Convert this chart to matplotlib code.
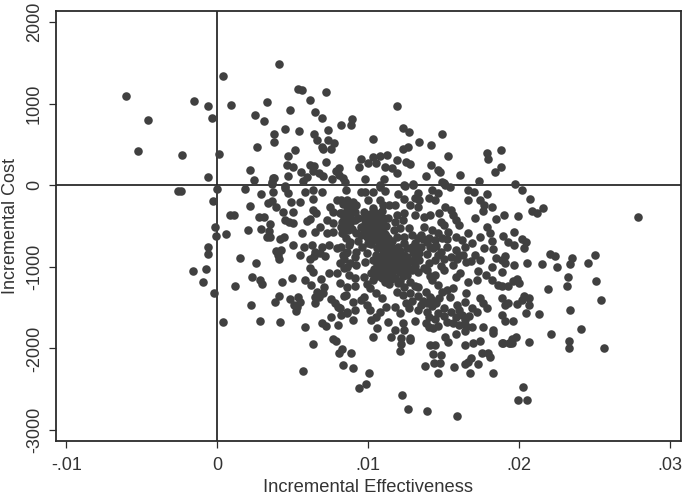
import matplotlib
matplotlib.use("Agg")
import matplotlib.pyplot as plt

plt.rcParams['font.family'] = ['Liberation Sans', 'DejaVu Sans']

# x and y ticks
x_ticks = [-0.01, 0, 0.01, 0.02, 0.03]
x_labels = ['-.01', '0', '.01', '.02', '.03']
y_ticks = [-3000, -2000, -1000, 0, 1000, 2000]
y_labels = ['-3000', '-2000', '-1000', '0', '1000', '2000']

# points, by region
eff_left = [-.00603, -.00461, -.00525, -.00232, -.00152, -.00064, -.00033, .00009, .00038, .00091, -.00064,
            .00248, .00327, .00309, .00378, .00374, .00265, .00217, .00243, .00376, .0036, .00407]
cost_left = [1098, 800, 420, 375, 1037, 975, 828, 387, 1339, 980, 105,
             865, 1020, 784, 632, 527, 473, 184, 65, 86, 44, 1486]

eff_upper = [.00535, .00559, .00718, .00614, .00482, .00649, .00692, .00891, .00886, .00818, .00451, .00736,
             .00541, .00641, .00663, .00736, .00773, .00692, .00702, .00753, .00515, .00469, .00952, .0072,
             .01034, .01193, .01233, .01272, .01335, .01262, .01233, .01418, .01489, .01531, .01785, .01794,
             .01878, .01034, .01078, .01127, .01189, .01001, .01052, .00939, .01109, .01156, .0125, .01275,
             .01193, .01414, .01465, .01478, .01385, .01606, .01734, .01838, .01878, .01487, .01509, .01244,
             .01299, .00977, .01107, .01078, .00464, .00504, .00553, .0047, .00614, .00641, .00636, .00676,
             .00698, .00592, .00566, .00758, .00808, .00787, .00808, .00831, .00846, .00371, .00449]
cost_upper = [1184, 1168, 1147, 1042, 919, 898, 828, 809, 743, 743, 690, 681,
              669, 629, 559, 559, 515, 466, 445, 441, 429, 355, 326, 285,
              564, 975, 702, 657, 531, 473, 441, 494, 625, 359, 400, 319,
              433, 350, 363, 368, 310, 277, 277, 221, 228, 216, 289, 257,
              154, 252, 188, 167, 118, 130, 53, 167, 221, 37, 4, -5,
              7, 74, 74, 4, 245, 221, 167, 110, 245, 237, 179, 147,
              118, 98, 56, 74, 208, 179, 126, 86, 44, 86, -9]

eff_mid = [-.00258, -.0024, -.00004, -.0003, .00186, .00292, .00215, .00086, .00113, .00278, .00309, -.00015,
           -.00009, .00056, .00203, .00288, .00349, .00345, .00349, .00329, .00417, .00442, .00502, -.0006,
           -.0006, .0015, .00258, .00389, .00422, .00404, .00409, -.00161, -.00075, -.00095, -.0002, .00117,
           .00232, .00283, .00298, .00429, .00493, .00221, .00382, .00409, .00484, .00537, .0055, .00508,
           .00526, .00522, .00038, .00285, .00417, .00579, .00636, .00694, .0072, .00753, .00798, .00765,
           .00787, .00824, .00579, .00623, .00687, .00742, .00791, .00707, .00659, .00702, .00647, .00676,
           .00645, .00751, .0078, .00802, .00818, .0084, .00857, .00614, .00636, .00548, .00577, .0063,
           .00692, .0074, .00791, .00614, .00647, .0068, .00714, .00643, .00835, .00813, .00857, .00559,
           .00592, .00614, .00647, .00636, .00652, .00449, .00477, .00504, .00437, .00504, .00486, .0047,
           .00449, .00548, .00581, .00632, .00634, .00692, .0036, .00371, .00389, .00334, .00364, .00747,
           .00791, .00769, .00813, .00725, .00769, .00824, .0068, .00725, .00769, .00824, .00868, .00868, .00857]
cost_mid = [-70, -74, -49, -196, -49, -107, -257, -360, -360, -392, -388, -511,
            -618, -600, -551, -535, -474, -556, -630, -637, -662, -637, -728, -752,
            -842, -895, -956, -805, -789, -854, -900, -1047, -1026, -1185, -1324, -1238,
            -1124, -1161, -1210, -1189, -1140, -1467, -1430, -1360, -1390, -1373, -1426, -1467,
            -1488, -1540, -1672, -1667, -1679, -1733, -1941, -1684, -1720, -1618, -1716, -1884,
            -1908, -2006, -1157, -1222, -1152, -1078, -1071, -1250, -1304, -1324, -1365, -1373,
            -1439, -1393, -1446, -1488, -1590, -1353, -1549, -1017, -1059, -850, -752, -732,
            -752, -732, -765, -907, -814, -826, -866, -866, -854, -949, -814, -588,
            -434, -417, -569, -303, -343, -425, -446, -466, -331, -324, -201, -98,
            -37, -201, -78, -168, -58, -78, 16, -78, -262, -221, -189, -262,
            -180, -324, -343, -425, -466, -446, -507, -588, -569, -588, -548, -364, -180]

eff_top = [.0085, .0095, .0098, .0108, .0111, .0103, .0120, .0133, .0124, .0130, .0150, .0154, .0142,
           .0146, .0140, .0144, .0166, .0170, .0179, .0166, .0174, .0177, .0182, .0176, .0171, .0185,
           .0082, .0090, .0092, .0100, .0108, .0110, .0118, .0124, .0128, .0133, .0131, .0134,
           .0151, .0155, .0156, .0158, .0160, .0147, .0141, .0137, .0131, .0124, .0119, .0114]
cost_top = [-58, -78, -82, -17, -75, -88, -111, -90, 4, 12, 24, -25, -58,
            -98, -160, -180, -58, -78, -107, -180, -176, -241, -270, -311, -405, -413,
            -180, -200, -241, -176, -184, -245, -238, -172, -241, -262, -160, -180,
            -270, -303, -364, -425, -486, -343, -360, -384, -368, -343, -360, -241]

eff_core1 = [.0086, .0082, .0091, .0097, .0103, .0109, .0113, .0103, .0098, .0093, .0085, .0088, .0082, .0083,
             .0095, .0101, .0106, .0109, .0112, .0102, .0097, .0107, .0099, .0095, .0105, .0100, .0109, .0112,
             .0118, .0123, .0121, .0117, .0127, .0114, .0119, .0124, .0129, .0133, .0137, .0142, .0135, .0148,
             .0150, .0153, .0146, .0149, .0140, .0144, .0152, .0158, .0162, .0166, .0174, .0179, .0181, .0182]
cost_core1 = [-303, -343, -323, -327, -282, -318, -405, -384, -425, -401, -421, -466, -507, -589,
              -507, -466, -486, -446, -503, -568, -548, -589, -629, -609, -670, -711, -666, -625,
              -446, -425, -527, -548, -523, -711, -629, -633, -609, -650, -507, -548, -609, -446,
              -486, -568, -589, -650, -646, -670, -654, -629, -674, -589, -638, -515, -585, -678]

eff_core2 = [.0082, .0087, .0085, .0091, .0096, .0092, .0099, .0106, .0110, .0114, .0120, .0124, .0131, .0135,
             .0134, .0130, .0124, .0119, .0112, .0107, .0103, .0098, .0092, .0088, .0084, .0087, .0091, .0097,
             .0102, .0108, .0113, .0118, .0123, .0129, .0134, .0140, .0144, .0148, .0145, .0141, .0152, .0158,
             .0160, .0164, .0169, .0171, .0174, .0177, .0183, .0185]
cost_core2 = [-752, -732, -834, -875, -756, -813, -830, -773, -736, -777, -752, -711, -707, -752,
              -834, -813, -854, -838, -850, -875, -915, -936, -977, -956, -1018, -1099, -1140, -1120,
              -1079, -1038, -997, -919, -956, -932, -915, -952, -911, -813, -748, -756, -752, -793,
              -854, -752, -711, -858, -915, -772, -776, -895]

eff_core3 = [.0081, .0086, .0091, .0099, .0103, .0109, .0114, .0119, .0123, .0129, .0133, .0139, .0144,
             .0142, .0150, .0156, .0165, .0161, .0158, .0166, .0173, .0172, .0178, .0182, .0182, .0186,
             .0085, .0090, .0097, .0101, .0105, .0109, .0099, .0095, .0120, .0124, .0128, .0123, .0119,
             .0133, .0138, .0141, .0133, .0146, .0149, .0152, .0156, .0147, .0154, .0159, .0165, .0164,
             .0160, .0169, .0174, .0176, .0179]
cost_core3 = [-1201, -1242, -1238, -1205, -1160, -1120, -1099, -1038, -1116, -1042, -1058, -1034, -1099,
              -1160, -1038, -977, -936, -1079, -1120, -1181, -1046, -1160, -1099, -1005, -1156, -1222,
              -1344, -1426, -1365, -1263, -1324, -1385, -1467, -1406, -1201, -1246, -1324, -1344, -1303,
              -1242, -1303, -1365, -1361, -1222, -1303, -1283, -1263, -1385, -1369, -1467, -1324, -1426,
              -1528, -1508, -1381, -1446, -1504]

eff_core4 = [.0081, .0086, .0091, .0090, .0101, .0108, .0105, .0102, .0112, .0118, .0121, .0127, .0133, .0139,
             .0135, .0142, .0145, .0150, .0155, .0152, .0158, .0162, .0164, .0167, .0172, .0176, .0183, .0183,
             .0106, .0113, .0123, .0131, .0138, .0140, .0143, .0146, .0118, .0124, .0115, .0122, .0128, .0103,
             .0151, .0158, .0164, .0169]
cost_core4 = [-1508, -1569, -1528, -1651, -1524, -1549, -1610, -1655, -1487, -1491, -1569, -1508, -1528, -1549,
              -1467, -1483, -1446, -1504, -1549, -1671, -1610, -1589, -1651, -1606, -1553, -1732, -1773, -1814,
              -1745, -1679, -1683, -1667, -1687, -1732, -1753, -1728, -1773, -1769, -1855, -1875, -1871, -1855,
              -1863, -1822, -1781, -1736]

# the solid blobs in the middle of the cloud
eff_blob1 = [.0098, .0101, .0105, .0108, .0100, .0104, .0107, .0110, .0098, .0101, .0104, .0107, .0110, .0100,
             .0103, .0106, .0109, .0099, .0102, .0105, .0108, .0111, .0104, .0107, .0110, .0113, .0116, .0102]
cost_blob1 = [-360, -350, -345, -370, -400, -410, -430, -400, -470, -440, -470, -510, -480, -520,
              -530, -560, -550, -585, -610, -610, -620, -600, -660, -690, -710, -640, -680, -720]

eff_blob2 = [.0115, .0118, .0121, .0126, .0129, .0132, .0110, .0113, .0116, .0121, .0126, .0131, .0105, .0108, .0111,
             .0114, .0117, .0120, .0126, .0131, .0106, .0109, .0112, .0115, .0118, .0121, .0125, .0128, .0104, .0107,
             .0110, .0113, .0116, .0121, .0124, .0126, .0106, .0109, .0112, .0115, .0118, .0121, .0111, .0114]
cost_blob2 = [-740, -780, -800, -770, -760, -780, -800, -820, -860, -880, -880, -870, -860, -900, -930,
              -900, -950, -920, -960, -990, -960, -990, -1000, -980, -1010, -1000, -1000, -1030, -1020, -1060,
              -1080, -1050, -1080, -1060, -1070, -1100, -1110, -1130, -1140, -1150, -1140, -1170, -1190, -1210]

eff_fill = [.0083, .0087, .0090, .0084, .0088, .0091, .0084, .0089, .0092, .0085, .0088, .0093, .0084, .0086,
            .0136, .0139, .0143, .0139, .0146, .0137, .0141, .0148, .0155, .0150, .0163, .0159, .0168, .0128,
            .0131, .0136, .0139, .0142, .0129, .0125, .0146, .0150, .0140, .0144, .0156, .0160, .0165]
cost_fill = [-230, -250, -290, -400, -380, -420, -500, -540, -590, -650, -690, -680, -900, -1000,
             -660, -700, -770, -840, -850, -1010, -1110, -990, -880, -900, -860, -900, -930, -1190,
             -1240, -1420, -1440, -1400, -1420, -1440, -1560, -1600, -1620, -1640, -1690, -1710, -1720]

eff_lower = [.00809, .00884, .00831, .00897, .01006, .00986, .0094, .00566, .01222, .01267, .01393, .01587,
             .01214, .01218, .0141, .01443, .01428, .01483, .01439, .01477, .01379, .01463, .01571, .01644,
             .01693, .01742, .0168, .01664, .01642, .01731, .01753, .01797, .0181, .01675, .01828, .01888,
             .01934, .01952, .01527, .01278, .02027, .01991, .02053]
cost_lower = [-2059, -2059, -2198, -2243, -2304, -2439, -2488, -2272, -2566, -2746, -2766, -2823,
              -2027, -1945, -1953, -1953, -2063, -2080, -2182, -2174, -2215, -2304, -2223, -1961,
              -1929, -1904, -2121, -2162, -2190, -2190, -2059, -2059, -2108, -2304, -2300, -1937,
              -1937, -1929, -1916, -1896, -2468, -2627, -2627]

eff_right = [.02788, .01972, .02021, .02072, .02156, .02087, .02116, .019, .0199, .01964, .01891, .01928, .01966,
             .02017, .02045, .02032, .02205, .02238, .02353, .02337, .02503, .02454, .02249, .02149, .02054,
             .01968, .01906, .01884, .01906, .01884, .02326, .0251, .02317, .0219, .01983, .01961, .01999,
             .01928, .01884, .0254, .02335, .02412, .02209, .0233, .0233, .02563, .02032, .02065, .02017,
             .02065, .01983, .01928, .01904, .01884, .02048, .02134, .01959, .01904, .01884, .01977, .0195,
             .01939, .01891, .02063]
cost_right = [-384, 12, -58, -168, -274, -311, -335, -364, -376, -576, -617, -695, -736,
              -658, -695, -764, -838, -870, -887, -964, -858, -956, -1001, -964, -952,
              -973, -866, -915, -956, -1067, -1128, -1177, -1238, -1275, -1152, -1173, -1201,
              -1234, -1234, -1406, -1528, -1757, -1818, -1908, -1998, -1990, -1353, -1385, -1406,
              -1467, -1459, -1438, -1467, -1385, -1569, -1581, -1659, -1663, -1589, -1863, -1888,
              -1937, -1937, -1920]

eff = (eff_left + eff_upper + eff_mid + eff_top + eff_core1 + eff_core2 + eff_core3 + eff_core4
       + eff_blob1 + eff_blob2 + eff_fill + eff_lower + eff_right)
cost = (cost_left + cost_upper + cost_mid + cost_top + cost_core1 + cost_core2 + cost_core3 + cost_core4
        + cost_blob1 + cost_blob2 + cost_fill + cost_lower + cost_right)

dark = '#404040'
line = '#2b2b2b'

fig = plt.figure(figsize=(6.85, 4.96), dpi=100)
ax = fig.add_axes([55.5 / 685, (496 - 440.7) / 496, (681 - 55.5) / 685, (440.7 - 11) / 496])

ax.scatter(eff, cost, s=38, color=dark, linewidths=0, zorder=3)
ax.axhline(0, color=line, lw=1.3, zorder=2)
ax.axvline(0, color=line, lw=1.3, zorder=2)

ax.set_xlim(-0.01072, 0.03073)
ax.set_ylim(-3130, 2136)
ax.set_xticks(x_ticks)
ax.set_xticklabels(x_labels)
ax.set_yticks(y_ticks)
ax.set_yticklabels(y_labels, rotation=90, va='center')
ax.tick_params(length=5, width=0.9, color=line, labelcolor='#333333')
ax.tick_params(axis='x', labelsize=13, pad=6.5)
ax.tick_params(axis='y', labelsize=13, pad=4)
for side in ax.spines.values():
    side.set_linewidth(1.3)
    side.set_color(line)

ax.set_xlabel('Incremental Effectiveness', fontsize=13.2, color='#333333', labelpad=4)
ax.set_ylabel('Incremental Cost', fontsize=13, color='#333333')
ax.yaxis.set_label_coords(-0.058, 0.5)

plt.savefig('out.png', dpi=100)
